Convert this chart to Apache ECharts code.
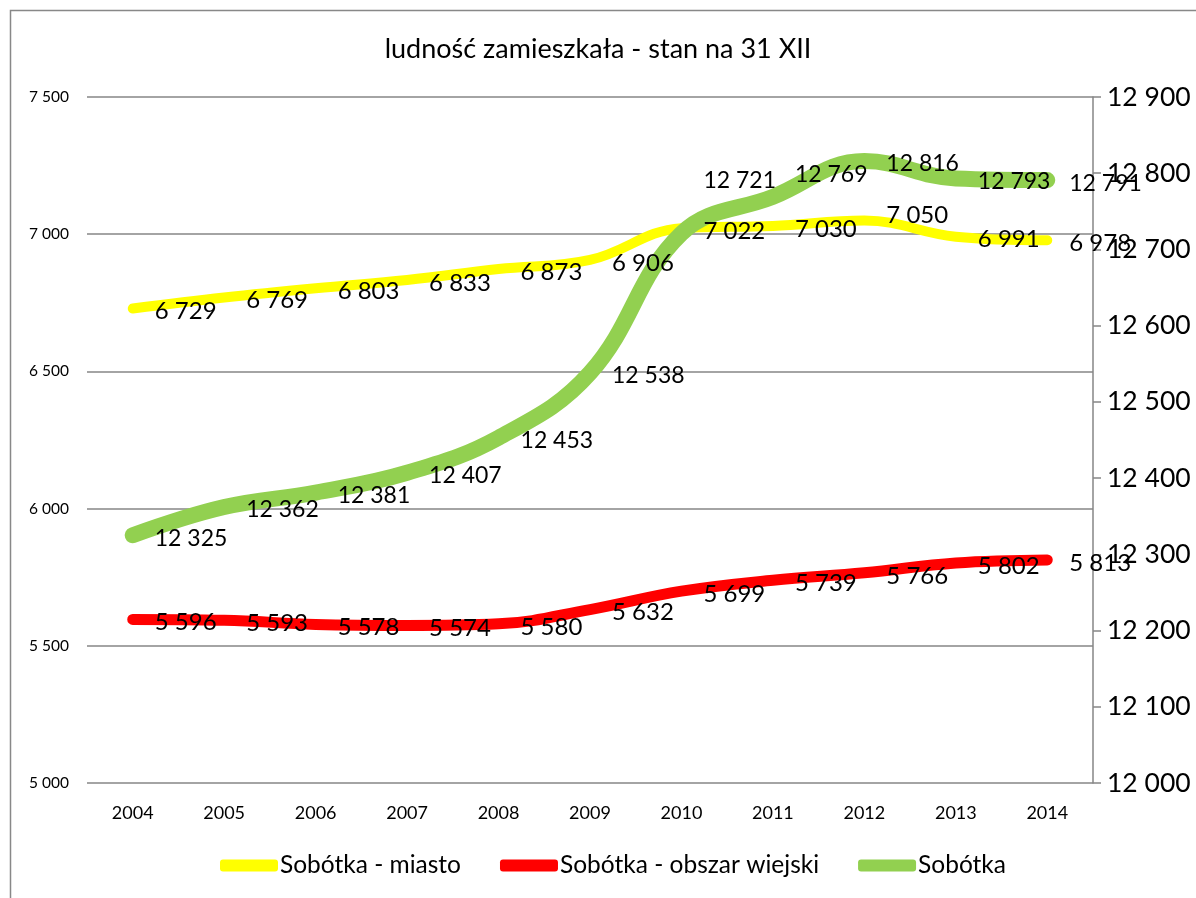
<!DOCTYPE html>
<html><head><meta charset="utf-8">
<script src="https://cdn.jsdelivr.net/npm/echarts@6/dist/echarts.min.js"></script>
<style>html,body{margin:0;padding:0;background:#fff}#c{width:1196px;height:898px}</style>
</head><body><div id="c"></div>
<script>
const years = ['2004','2005','2006','2007','2008','2009','2010','2011','2012','2013','2014'];
const miasto = [6729, 6769, 6803, 6833, 6873, 6906, 7022, 7030, 7050, 6991, 6978];
const wiejski = [5596, 5593, 5578, 5574, 5580, 5632, 5699, 5739, 5766, 5802, 5813];
const sobotka = [12325, 12362, 12381, 12407, 12453, 12538, 12721, 12769, 12816, 12793, 12791];
const seriesNames = ['Sobótka - miasto', 'Sobótka - obszar wiejski', 'Sobótka'];

// label nudges (style only), keyed by category index
const labelNudge = [{8: -8}, {}, {6: -56, 7: -25}];

const FONT = 'Lato';
const fmt = v => String(v).replace(/\B(?=(\d{3})+(?!\d))/g, ' ');
const chart = echarts.init(document.getElementById('c'), null, {renderer: 'canvas'});
function mk(idx, data, color, width, yIdx, fs) {
  const nud = labelNudge[idx];
  return {name: seriesNames[idx], type: 'line', yAxisIndex: yIdx, smooth: 0.4, symbol: 'circle', symbolSize: 0, showSymbol: true,
    data: data.map((v, i) => nud[i] !== undefined ? {value: v, label: {offset: [0, 3 + nud[i]]}} : v),
    lineStyle: {color, width, cap: 'round', join: 'round'}, itemStyle: {color},
    label: {show: true, position: 'right', distance: 22, offset: [0, 3], color: '#000', fontSize: fs, fontFamily: FONT,
      formatter: p => fmt(p.value)},
    emphasis: {disabled: true}};
}
chart.setOption({
  animation: false,
  backgroundColor: '#fff',
  graphic: [{type: 'rect', shape: {x: 10.5, y: 10.5, width: 1200, height: 900}, style: {fill: 'none', stroke: '#888', lineWidth: 1.5}, z: -1}],
  title: {text: 'ludność zamieszkała - stan na 31 XII', left: 'center', top: 31,
    textStyle: {fontFamily: FONT, fontSize: 27, fontWeight: 'normal', color: '#000'}},
  legend: {bottom: 15, left: 215, icon: 'roundRect', itemWidth: 58, itemHeight: 12, itemGap: 39,
    textStyle: {fontFamily: FONT, fontSize: 24.5, color: '#000', padding: [0, 0, 0, -3]},
    data: seriesNames},
  grid: {left: 87, right: 103, top: 97, bottom: 115},
  xAxis: {type: 'category', data: years, boundaryGap: true,
    axisLine: {show: false}, axisTick: {show: false},
    axisLabel: {fontFamily: FONT, fontSize: 18, color: '#000', margin: 21}},
  yAxis: [
    {type: 'value', min: 5000, max: 7500, interval: 500, position: 'left',
      axisLine: {show: false}, axisTick: {show: false},
      axisLabel: {fontFamily: FONT, fontSize: 15.5, color: '#000', margin: 18, formatter: fmt},
      splitLine: {lineStyle: {color: '#868686', width: 1.5}}},
    {type: 'value', min: 12000, max: 12900, interval: 100, position: 'right',
      axisLine: {show: true, lineStyle: {color: '#868686', width: 1.5}},
      axisTick: {show: true, length: 8, lineStyle: {color: '#868686', width: 1.5}},
      axisLabel: {fontFamily: FONT, fontSize: 26.5, color: '#000', margin: 14, formatter: fmt},
      splitLine: {show: false}}
  ],
  series: [
    mk(0, miasto, '#FFFF00', 10, 0, 24),
    mk(1, wiejski, '#FF0000', 11, 0, 24),
    mk(2, sobotka, '#92D050', 16, 1, 23)
  ]
});
</script></body></html>
